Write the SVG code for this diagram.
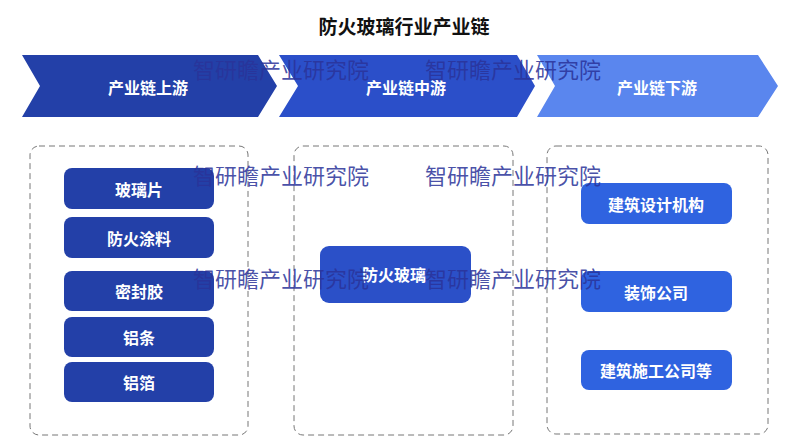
<svg xmlns="http://www.w3.org/2000/svg" width="800" height="445" viewBox="0 0 800 445">
<style>
.t{font-family:"Noto Sans CJK SC","Noto Sans",sans-serif;font-weight:bold;fill:#fff;font-size:16px;text-anchor:middle;dominant-baseline:central}
.title{font-family:"Noto Sans CJK SC","Noto Sans",sans-serif;font-weight:bold;fill:#111;font-size:19px;text-anchor:middle;dominant-baseline:central}
.box{fill:none;stroke:#777;stroke-width:1;stroke-dasharray:6 4}
.up{fill:#2340a8}
.mid{fill:#2b50c8}
.down{fill:#2f63e0}
.wm{font-family:"Noto Sans CJK SC",sans-serif;font-size:22px;fill:#2a3399;fill-opacity:0.85;dominant-baseline:central}
</style>
<rect width="800" height="445" fill="#fff"/>
<text class="title" x="404" y="25">防火玻璃行业产业链</text>
<g id="stage-up">
<polygon points="22,55 258,55 277,86 258,117 22,117 40,86" fill="#2340a8"/>
<text class="t" x="148" y="87">产业链上游</text>
</g>
<g id="stage-mid">
<polygon points="279,55 517,55 535,86 517,117 279,117 298,86" fill="#2b4fc9"/>
<text class="t" x="406" y="87">产业链中游</text>
</g>
<g id="stage-down">
<polygon points="537,55 758,55 778,86 758,117 537,117 555,86" fill="#5a86ee"/>
<text class="t" x="657" y="87">产业链下游</text>
</g>
<g id="group-up"><rect class="box" x="30" y="146" width="218" height="289" rx="9"/></g>
<g id="group-mid"><rect class="box" x="294" y="146" width="219" height="289" rx="9"/></g>
<g id="group-down"><rect class="box" x="547" y="146" width="221" height="288" rx="9"/></g>
<g id="n-glass"><rect class="up" x="64" y="168" width="150" height="41" rx="8"/><text class="t" x="139" y="189">玻璃片</text></g>
<g id="n-coating"><rect class="up" x="64" y="217" width="150" height="41" rx="8"/><text class="t" x="139" y="238">防火涂料</text></g>
<g id="n-sealant"><rect class="up" x="64" y="271" width="150" height="40" rx="8"/><text class="t" x="139" y="291">密封胶</text></g>
<g id="n-strip"><rect class="up" x="64" y="317" width="150" height="40" rx="8"/><text class="t" x="139" y="337">铝条</text></g>
<g id="n-foil"><rect class="up" x="64" y="362" width="150" height="40" rx="8"/><text class="t" x="139" y="382">铝箔</text></g>
<g id="n-fireglass"><rect class="mid" x="320" y="246" width="151" height="57" rx="9"/><text class="t" x="394" y="274">防火玻璃</text></g>
<g id="n-design"><rect class="down" x="581" y="183" width="151" height="41" rx="8"/><text class="t" x="656" y="204">建筑设计机构</text></g>
<g id="n-deco"><rect class="down" x="581" y="271" width="151" height="41" rx="8"/><text class="t" x="656" y="292">装饰公司</text></g>
<g id="n-build"><rect class="down" x="581" y="350" width="151" height="40" rx="8"/><text class="t" x="656" y="370">建筑施工公司等</text></g>
<g id="connectors"></g>
<g id="watermark">
<text class="wm" x="193" y="68">智研瞻产业研究院</text>
<text class="wm" x="425" y="68">智研瞻产业研究院</text>
<text class="wm" x="193" y="174">智研瞻产业研究院</text>
<text class="wm" x="425" y="174">智研瞻产业研究院</text>
<text class="wm" x="193" y="277">智研瞻产业研究院</text>
<text class="wm" x="425" y="277">智研瞻产业研究院</text>
</g>
</svg>
